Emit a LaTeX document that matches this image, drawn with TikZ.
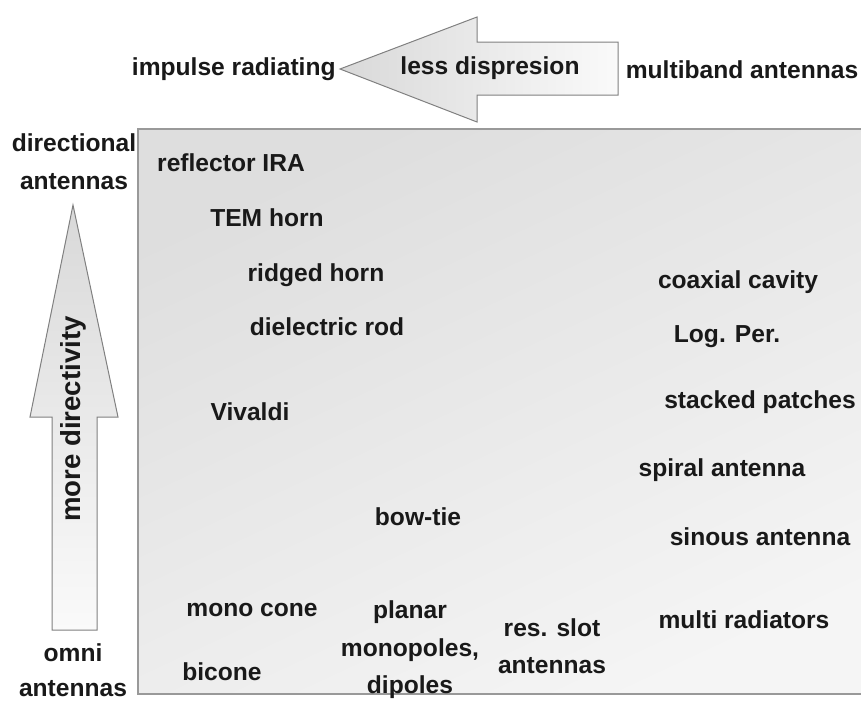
\documentclass[tikz,border=0pt]{standalone}
\usepackage{fontspec}
\setmainfont{Liberation Sans}
\usetikzlibrary{positioning}

\tikzset{
  lbl/.style={font=\bfseries\fontsize{12.3}{18.8}\selectfont, text=black!90, inner sep=0pt, align=center},
  blockarrow/.style={draw=black!50, line width=0.5pt, line join=miter},
}

\begin{document}
\begin{tikzpicture}[x=0.5pt,y=-0.5pt]
        \useasboundingbox (0,0) rectangle (861,702);

        % plocha s anténami
        \coordinate (boxNW) at (138,129);
        \coordinate (boxSE) at (870,694);
        \shade[top color=black!13, bottom color=black!4, shading angle=25] (boxNW) rectangle (boxSE);
        \draw[black!40, line width=0.8pt] (boxSE |- boxNW) -- (boxNW) -- (boxNW |- boxSE) -- (boxSE);

        % vodorovná šipka
        \coordinate (dispTip) at (340,69);
        \shadedraw[blockarrow, left color=black!15, right color=black!2]
        (dispTip) -- ++(137,-52) -- ++(0,25) -- ++(141,0) -- ++(0,53)
        -- ++(-141,0) -- ++(0,27) -- cycle;

        % svislá šipka
        \coordinate (dirTip) at (73,205);
        \shadedraw[blockarrow, top color=black!15, bottom color=black!2]
        (dirTip) -- ++(-43,212) -- ++(22,0) -- ++(0,213) -- ++(45,0)
        -- ++(0,-213) -- ++(21,0) -- cycle;

        % popisy os
        \node[lbl, left=2pt of dispTip] (impulse) {impulse radiating};
        \node[lbl] (dispersion) at (490,68) {less dispresion};
        \node[lbl] (multiband) at (742,70) {multiband antennas};
        \node[lbl] (directional) at (74,162) {directional\\antennas};
        \node[lbl, font=\bfseries\fontsize{12.3}{17.6}\selectfont] (omni) at (73,670) {omni\\antennas};
        \node[lbl, rotate=90, font=\bfseries\fontsize{13.8}{16}\selectfont] (directivity) at (73,419) {more directivity};

        % antény
        \node[lbl] (ira) at (231,163) {reflector IRA};
        \node[lbl] (tem) at (267,218) {TEM horn};
        \node[lbl] (ridged) at (316,275) {ridged horn};
        \node[lbl] (rod) at (327,327) {dielectric rod};
        \node[lbl] (vivaldi) at (250,412) {Vivaldi};
        \node[lbl] (bowtie) at (418,517) {bow-tie};
        \node[lbl] (monocone) at (252,610) {mono cone};
        \node[lbl] (bicone) at (222,672) {bicone};
        \node[lbl] (planar) at (410,650) {planar\\monopoles,\\dipoles};
        \node[lbl] (slot) at (552,646) {res. slot\\antennas};
        \node[lbl] (coax) at (738,282) {coaxial cavity};
        \node[lbl] (logper) at (727,337) {Log. Per.};
        \node[lbl] (patches) at (760,402) {stacked patches};
        \node[lbl] (spiral) at (722,470) {spiral antenna};
        \node[lbl] (sinous) at (760,537) {sinous antenna};
        \node[lbl] (multi) at (744,620) {multi radiators};
    \end{tikzpicture}
\end{document}
